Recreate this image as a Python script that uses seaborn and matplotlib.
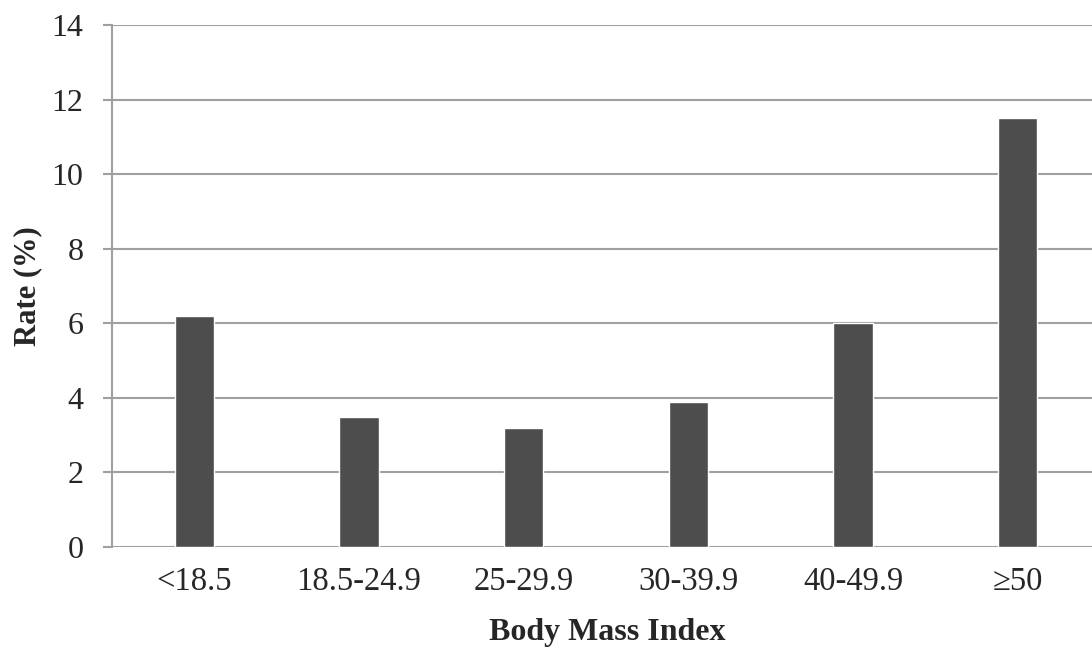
import matplotlib
matplotlib.use("Agg")
import matplotlib.pyplot as plt
import pandas as pd
import seaborn as sns

# data
bmi_groups = ["<18.5", "18.5-24.9", "25-29.9", "30-39.9", "40-49.9", "\u226550"]
rates = [6.2, 3.5, 3.2, 3.9, 6.0, 11.5]
y_ticks = [0, 2, 4, 6, 8, 10, 12, 14]

df = pd.DataFrame({"bmi": bmi_groups, "rate": rates})

sns.set_style("white")
plt.rcParams["font.family"] = ["Liberation Serif", "DejaVu Serif"]

W, H = 1092, 651
fig = plt.figure(figsize=(W / 100, H / 100), dpi=100)
# axes runs slightly past the right edge, as in the cropped original
ax_left, ax_right, ax_top, ax_bottom = 112, 1100, 25, 547
ax = fig.add_axes([ax_left / W, (H - ax_bottom) / H,
                   (ax_right - ax_left) / W, (ax_bottom - ax_top) / H])

grid_col = "#a0a0a0"
sns.barplot(data=df, x="bmi", y="rate", color="#4d4d4d", width=0.237,
            saturation=1, ax=ax, zorder=3)

ax.set_xlim(-0.5, len(bmi_groups) - 0.5)
ax.set_ylim(0, 14)
ax.set_yticks(y_ticks)
ax.yaxis.grid(True, color=grid_col, linewidth=1.5, zorder=0)
ax.set_axisbelow(True)

for side in ["top", "right", "bottom"]:
    ax.spines[side].set_visible(False)
ax.spines["left"].set_color(grid_col)
ax.spines["left"].set_linewidth(1.5)

ax.tick_params(axis="y", direction="out", length=6.5, width=1.5, color=grid_col,
               labelsize=23, pad=14, left=True)
ax.tick_params(axis="x", length=0, labelsize=23.5, pad=14)

ax.set_xlabel("Body Mass Index", fontsize=23, fontweight="bold")
ax.set_ylabel("Rate (%)", fontsize=22, fontweight="bold")
aw, ah = ax_right - ax_left, ax_bottom - ax_top
ax.xaxis.set_label_coords((607 - ax_left) / aw, -(618 - ax_bottom) / ah)
ax.yaxis.set_label_coords(-(ax_left - 42) / aw, (ax_bottom - 286) / ah)

fig.savefig("out.png", dpi=100)
